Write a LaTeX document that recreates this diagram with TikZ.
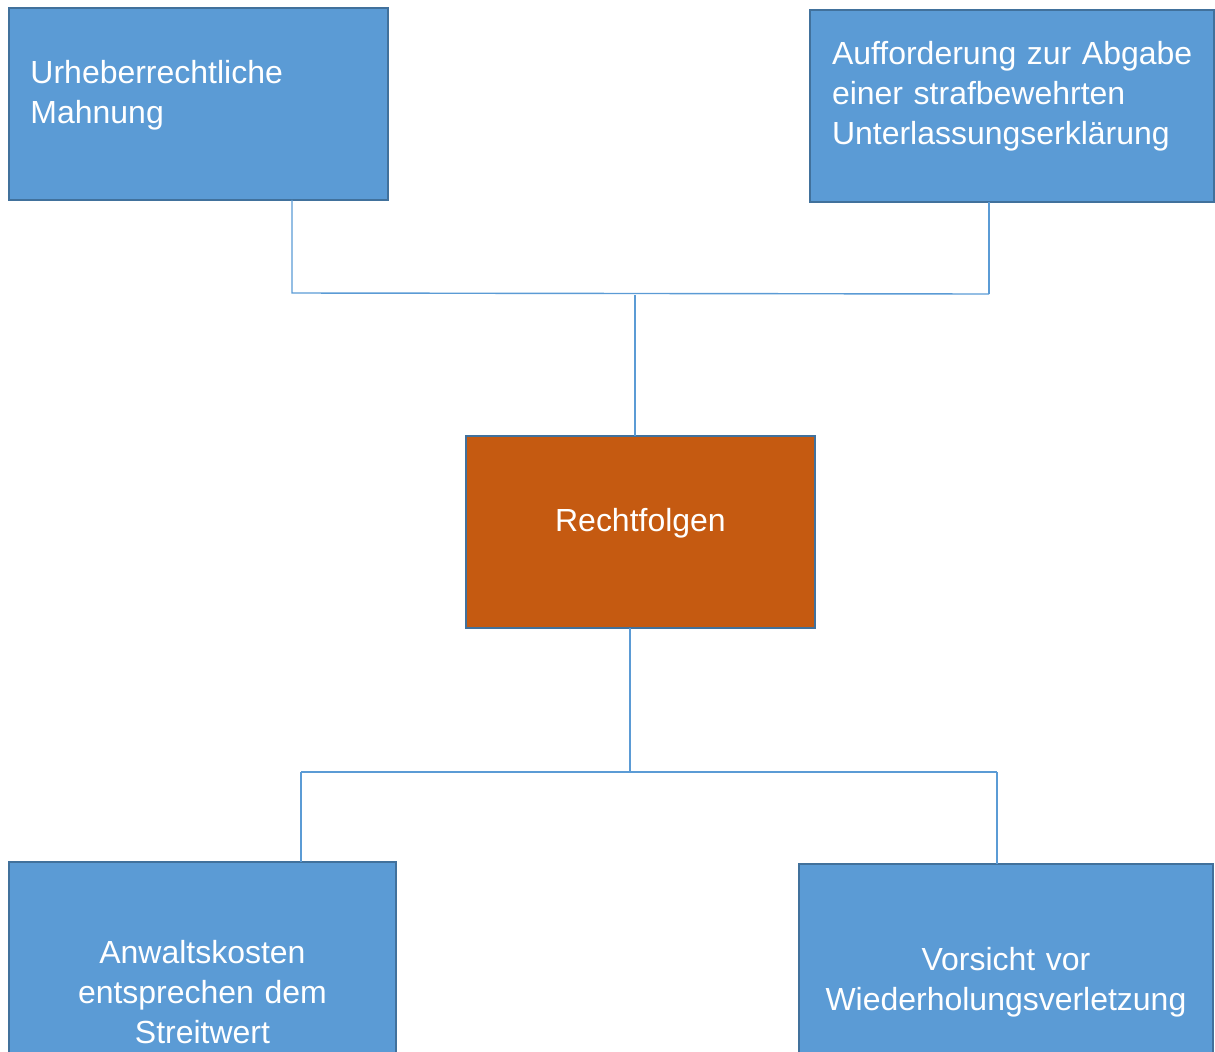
\documentclass[tikz,border=0pt]{standalone}
\usepackage{fontspec}
\setmainfont{Liberation Sans}
\definecolor{boxblue}{HTML}{5B9BD5}
\definecolor{boxedge}{HTML}{41719C}
\definecolor{boxorange}{HTML}{C55A11}
\tikzset{
  card/.style={draw=boxedge, line width=1.3pt, fill=boxblue, text=white,
    inner ysep=0pt, outer sep=0pt, anchor=north west,
    font=\fontsize{18.2}{22.76}\selectfont},
  hub/.style={card, fill=boxorange, inner xsep=0pt},
  link/.style={draw=boxblue, line width=0.8pt}
}
\begin{document}
\begin{tikzpicture}[x=0.02cm, y=-0.02cm]
      \useasboundingbox (0,0) rectangle (1215,1052);
      \clip (0,0) rectangle (1215,1052);
      \draw
        (466,436) node[hub, minimum width=6.98cm, text height=1.92cm, text depth=1.92cm] (0) {Rechtfolgen}
        (9,8) node[card, align=left, inner xsep=0.43cm, text width=6.72cm, text height=1.52cm, text depth=2.32cm] (1) {Urheberrechtliche\\Mahnung}
        (810,10) node[card, align=left, inner xsep=0.44cm, text width=7.2cm, text height=1.1cm, text depth=2.74cm] (2) {\mbox{Aufforderung zur Abgabe}\\einer strafbewehrten\\Unterlassungserklärung}
        (9,862) node[card, align=center, inner xsep=0.3cm, text width=7.14cm, text height=2.04cm, text depth=1.96cm] (3) {Anwaltskosten\\entsprechen dem\\Streitwert}
        (799,864) node[card, align=center, inner xsep=0.3cm, text width=7.68cm, text height=2.14cm, text depth=1.82cm] (4) {Vorsicht vor\\Wiederholungsverletzung};
      \coordinate (t0) at (635,295);
      \coordinate (t1) at (292,293);
      \coordinate (t2) at (989,294);
      \coordinate (b0) at (630,772);
      \coordinate (b1) at (301,772);
      \coordinate (b2) at (997,772);
      \begin{scope}[link]
        \draw (1.south -| t1) to (t1) to (t2);
        \draw (2.south -| t2) to (t2);
        \draw (t0) to (0.north -| t0);
        \draw (0.south -| b0) to (b0);
        \draw (b1) to (b2);
        \draw (b1) to (3.north -| b1);
        \draw (b2) to (4.north -| b2);
      \end{scope}
\end{tikzpicture}
\end{document}
